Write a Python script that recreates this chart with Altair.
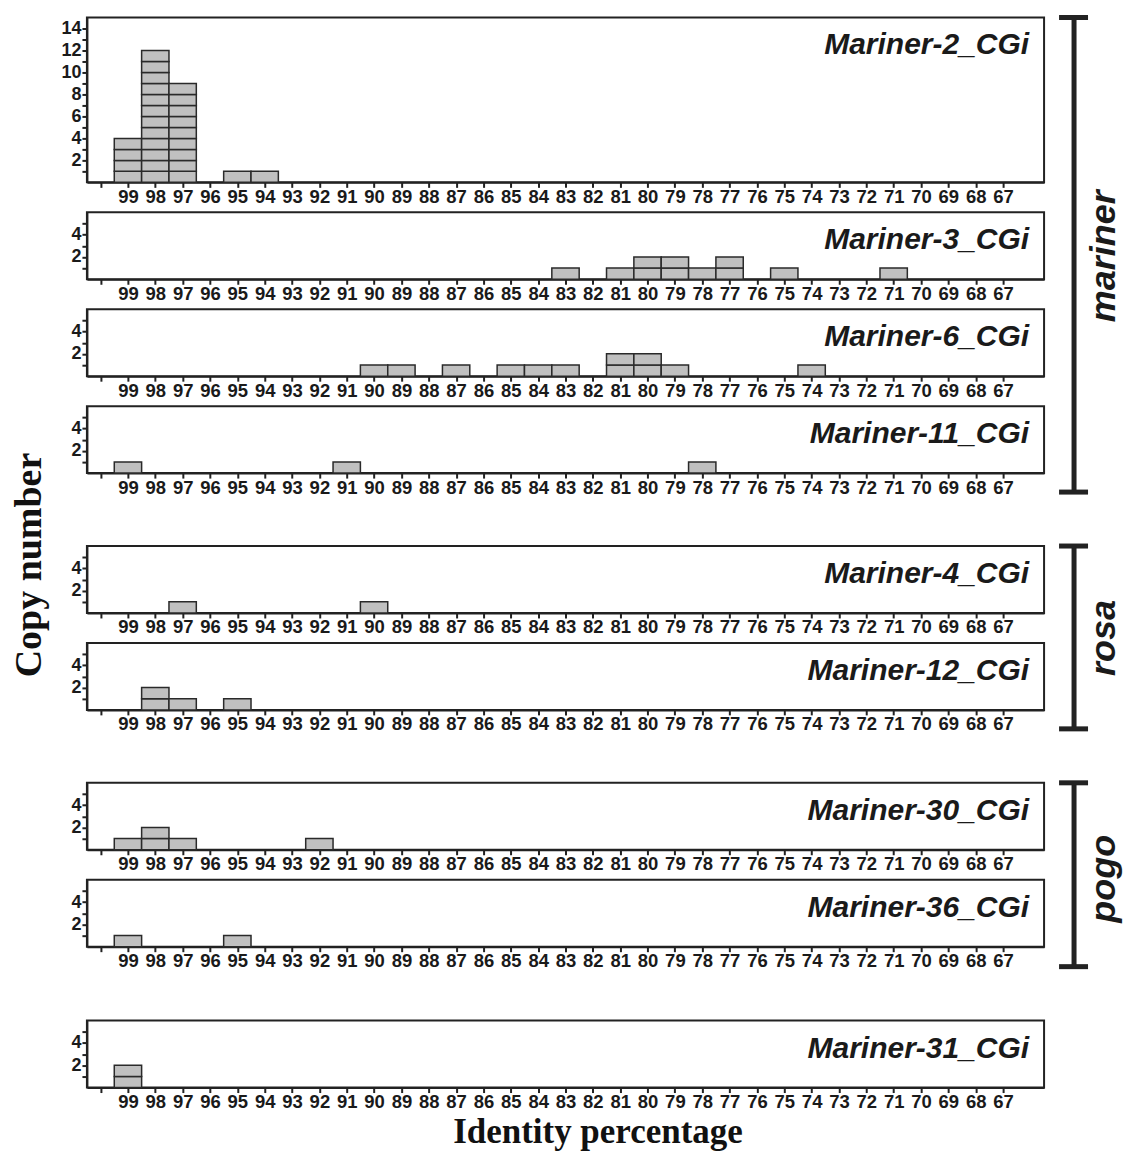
import altair as alt
import pandas as pd

# ---- data ----
panel_names = ["Mariner-2_CGi", "Mariner-3_CGi", "Mariner-6_CGi", "Mariner-11_CGi",
               "Mariner-4_CGi", "Mariner-12_CGi", "Mariner-30_CGi", "Mariner-36_CGi",
               "Mariner-31_CGi"]

ident_m2 = [99, 98, 97, 95, 94]
count_m2 = [4, 12, 9, 1, 1]
ident_m3 = [83, 81, 80, 79, 78, 77, 75, 71]
count_m3 = [1, 1, 2, 2, 1, 2, 1, 1]
ident_m6 = [90, 89, 87, 85, 84, 83, 81, 80, 79, 74]
count_m6 = [1, 1, 1, 1, 1, 1, 2, 2, 1, 1]
ident_m11 = [99, 91, 78]
count_m11 = [1, 1, 1]
ident_m4 = [97, 90]
count_m4 = [1, 1]
ident_m12 = [98, 97, 95]
count_m12 = [2, 1, 1]
ident_m30 = [99, 98, 97, 92]
count_m30 = [1, 2, 1, 1]
ident_m36 = [99, 95]
count_m36 = [1, 1]
ident_m31 = [99]
count_m31 = [2]

x_ticks = list(range(100, 66, -1))  # 100 (unlabelled) .. 67
group_names = ["mariner", "rosa", "pogo"]
y_title = "Copy number"
x_title = "Identity percentage"

series = [(ident_m2, count_m2), (ident_m3, count_m3), (ident_m6, count_m6),
          (ident_m11, count_m11), (ident_m4, count_m4), (ident_m12, count_m12),
          (ident_m30, count_m30), (ident_m36, count_m36), (ident_m31, count_m31)]

W = 958
DARK = "#222222"


def units(idents, counts):
    rows = []
    for v, c in zip(idents, counts):
        for k in range(1, c + 1):
            rows.append({"x1": v + 0.5, "x2": v - 0.5, "y1": k - 1, "y2": k})
    return pd.DataFrame(rows)


def panel(i, last=False, bracket=None, ylabel=None):
    idents, counts = series[i]
    big = i == 0
    h = 165 if big else 67
    ymax = 15 if big else 6
    yvals = list(range(1, 15)) if big else [1, 2, 3, 4, 5]
    xaxis = alt.Axis(values=x_ticks, labelExpr="datum.value == 100 ? '' : datum.label",
                     labelFontSize=18.5, labelPadding=0, labelOverlap=False, labelFlush=False,
                     labelAngle=0,
                     title=x_title if last else None,
                     titleFont="Liberation Serif", titleFontSize=35, titleFontWeight="bold",
                     titleColor="#111111", titleBaseline="alphabetic", titleX=511, titleY=55)
    bars = alt.Chart(units(idents, counts)).mark_rect(
        fill="#c0c0c0", stroke="#2a2a2a", strokeWidth=1.5
    ).encode(
        x=alt.X("x1:Q", scale=alt.Scale(domain=[65.5, 100.5], reverse=True, nice=False, zero=False),
                axis=xaxis),
        x2="x2:Q",
        y=alt.Y("y1:Q", scale=alt.Scale(domain=[0, ymax], nice=False),
                axis=alt.Axis(values=yvals, labelExpr="datum.value % 2 == 0 ? datum.label : ''",
                              labelFontSize=18, labelPadding=1, labelOverlap=False,
                              labelFlush=False, title=None)),
        y2="y2:Q",
    )
    one = pd.DataFrame({"a": [0]})
    label = alt.Chart(one).mark_text(
        align="right", baseline="alphabetic", font="Liberation Sans", fontSize=30,
        fontWeight="bold", fontStyle="italic", color="#1a1a1a"
    ).encode(x=alt.value(W - 15), y=alt.value(37), text=alt.value(panel_names[i]))
    layers = [bars, label]
    if bracket is not None:
        name, length, mid = bracket
        layers.append(alt.Chart(one).mark_rule(color=DARK, strokeWidth=5).encode(
            x=alt.value(988), y=alt.value(0), y2=alt.value(length)))
        layers.append(alt.Chart(one).mark_rule(color=DARK, strokeWidth=5).encode(
            x=alt.value(973), x2=alt.value(1002), y=alt.value(0)))
        layers.append(alt.Chart(one).mark_rule(color=DARK, strokeWidth=5).encode(
            x=alt.value(973), x2=alt.value(1002), y=alt.value(length)))
        layers.append(alt.Chart(one).mark_text(
            angle=270, align="center", baseline="middle", font="Liberation Sans",
            fontSize=36, fontWeight="bold", fontStyle="italic", color="#1a1a1a"
        ).encode(x=alt.value(1018), y=alt.value(mid), text=alt.value(name)))
    if ylabel is not None:
        layers.append(alt.Chart(one).mark_text(
            angle=270, align="center", baseline="middle", font="Liberation Serif",
            fontSize=38, fontWeight="bold", color="#111111"
        ).encode(x=alt.value(-57), y=alt.value(ylabel), text=alt.value(y_title)))
    return alt.layer(*layers).properties(width=W, height=h)


def spacer(h):
    return alt.Chart(pd.DataFrame({"a": [0]})).mark_point(opacity=0).encode(
        x=alt.X("a:Q", axis=None), y=alt.Y("a:Q", axis=None)
    ).properties(width=W, height=h, view=alt.ViewBackground(stroke="transparent"))


charts = [
    panel(0, bracket=(group_names[0], 475, 239)), panel(1), panel(2), panel(3),
    spacer(13),
    panel(4, bracket=(group_names[1], 183, 92), ylabel=19), panel(5),
    spacer(13),
    panel(6, bracket=(group_names[2], 184, 96)), panel(7),
    spacer(14),
    panel(8, last=True),
]

chart = alt.vconcat(*charts, spacing=30, bounds="flush").resolve_scale(
    x="independent", y="independent"
).properties(
    padding={"left": 1, "top": 5, "right": 0, "bottom": 0},
).configure_view(
    stroke=DARK, strokeWidth=2
).configure_axis(
    domainColor=DARK, domainWidth=2, tickColor=DARK, tickWidth=2, tickSize=5,
    labelFont="Liberation Sans", labelFontWeight="bold", labelColor="#1a1a1a", grid=False
)

chart.save("out.html", embed_options={"renderer": "svg", "actions": False})
